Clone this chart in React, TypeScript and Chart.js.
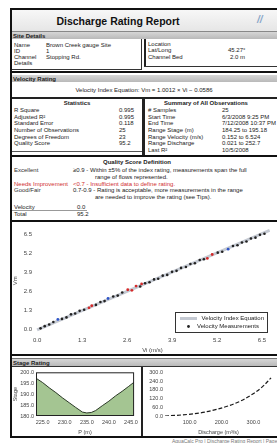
import React, { useEffect, useRef } from 'react';
import { Chart, registerables } from 'chart.js';
Chart.register(...registerables);

const FONT = '"Liberation Sans", Arial, sans-serif';

// ---- Velocity rating (main chart) ----
const VI_TICKS = [0.0, 1.3, 2.6, 3.9, 5.2, 6.5];
const VM_TICKS = [0.0, 1.3, 2.6, 3.9, 5.2, 6.5];
const FIT_VI = [0.0, 6.72];
const FIT_VM = [-0.06, 6.78];
const MEAS_VI = [0.10, 0.22, 0.35, 0.47, 0.72, 0.85, 0.98, 1.10, 1.23, 1.36, 1.70, 1.83, 1.95, 2.20, 2.33, 2.46, 2.98, 3.12, 3.25, 3.38, 3.50, 3.63, 3.76, 3.90, 4.03, 4.16, 4.30, 4.43, 4.56, 4.70, 4.82, 5.22, 5.35, 5.66, 5.79, 5.92, 6.05, 6.18, 6.31, 6.44, 6.57];
const MEAS_VM = [0.05, 0.20, 0.31, 0.49, 0.70, 0.80, 1.01, 1.07, 1.25, 1.33, 1.66, 1.86, 1.92, 2.24, 2.30, 2.51, 2.92, 3.15, 3.22, 3.41, 3.46, 3.67, 3.72, 3.93, 4.00, 4.20, 4.26, 4.47, 4.52, 4.74, 4.79, 5.25, 5.31, 5.70, 5.76, 5.95, 6.01, 6.22, 6.28, 6.47, 6.55];
const RED_VI = [1.50, 1.58, 2.62, 2.74, 2.86, 3.02, 4.92, 5.06];
const RED_VM = [1.46, 1.60, 2.70, 2.66, 2.95, 3.10, 4.85, 5.12];
const BLUE_VI = [0.60, 2.05, 5.52];
const BLUE_VM = [0.66, 2.10, 5.49];
const SERIES_NAMES = ['Velocity Index Equation', 'Velocity Measurements'];

// ---- Stage rating: cross-section ----
const XS_P = [223.5, 225.0, 226.5, 228.0, 229.5, 231.0, 232.5, 234.0, 235.0, 236.0, 237.0, 238.5, 240.0, 241.5, 243.0, 244.5, 245.7];
const XS_E = [197.3, 195.3, 192.9, 190.7, 188.3, 186.1, 183.9, 181.8, 181.4, 181.6, 182.5, 184.7, 186.8, 189.2, 191.3, 193.6, 195.5];
const XS_P_TICKS = [225, 230, 235, 240, 245];
const XS_E_TICKS = [180, 185, 190, 195, 200];

// ---- Stage rating: curve ----
const RC_X = [23, 55, 95, 135, 175, 215, 255, 290, 325, 355];
const RC_Y = [0, 4, 11, 22, 40, 65, 98, 140, 195, 262];
const RC_X_TICKS = [100, 200, 300];
const RC_Y_TICKS = [0, 60, 120, 180, 240, 300];

const pts = (xs: number[], ys: number[]) => xs.map((x, i) => ({ x, y: ys[i] }));
const fixTicks = (vals: number[]) => (axis: any) => { axis.ticks = vals.map((v) => ({ value: v })); };

const tickFont = { family: FONT, size: 6 };
const smallFont = { family: FONT, size: 5.5 };

function useChart(ref: React.RefObject<HTMLCanvasElement>, make: (c: HTMLCanvasElement) => Chart) {
  useEffect(() => {
    if (!ref.current) return;
    const ch = make(ref.current);
    return () => ch.destroy();
  }, []);
}

const insideLegend = {
  id: 'insideLegend',
  afterDraw(chart: any) {
    const { ctx, chartArea } = chart;
    const w = 92, h = 20;
    const x = chartArea.right - 3 - w;
    const y = chartArea.bottom - 1 - h;
    ctx.save();
    ctx.fillStyle = '#fff';
    ctx.fillRect(x, y, w, h);
    ctx.strokeStyle = '#333';
    ctx.lineWidth = 1;
    ctx.strokeRect(x + 0.5, y + 0.5, w, h);
    ctx.strokeStyle = '#c4c9d2';
    ctx.lineWidth = 3;
    ctx.beginPath();
    ctx.moveTo(x + 5, y + 6.5);
    ctx.lineTo(x + 22, y + 6.5);
    ctx.stroke();
    ctx.fillStyle = '#222';
    ctx.beginPath();
    ctx.arc(x + 13.5, y + 14.5, 1.4, 0, Math.PI * 2);
    ctx.fill();
    ctx.font = `6px ${FONT}`;
    ctx.textBaseline = 'middle';
    ctx.textAlign = 'right';
    ctx.fillText(chart.data.datasets[3].label, x + w - 3, y + 6.5);
    ctx.fillText(chart.data.datasets[0].label, x + w - 8, y + 14.5);
    ctx.restore();
  },
};

const framePlugin = {
  id: 'frame',
  afterDatasetsDraw(chart: any) {
    const { ctx, chartArea: a } = chart;
    ctx.save();
    ctx.strokeStyle = '#222';
    ctx.lineWidth = 1;
    ctx.strokeRect(a.left + 0.5, a.top + 0.5, a.right - a.left - 1, a.bottom - a.top - 1);
    ctx.restore();
  },
};

function axis(min: number, max: number, ticks: number[], fit: (s: any) => void, font: any, title?: string, pad = 3) {
  return {
    type: 'linear' as const, min, max,
    afterBuildTicks: fixTicks(ticks),
    afterFit: fit,
    grid: { display: false, drawTicks: false }, border: { display: false },
    ticks: { font, color: '#444', padding: pad, autoSkip: false, maxRotation: 0, callback: (v: any) => Number(v).toFixed(1) },
    title: { display: !!title, text: title || '', font, color: '#444', padding: 0 },
  };
}

function MainChart() {
  const ref = useRef<HTMLCanvasElement>(null);
  useChart(ref, (c) => new Chart(c, {
    type: 'scatter',
    data: {
      datasets: [
        { label: SERIES_NAMES[1], data: pts(MEAS_VI, MEAS_VM), backgroundColor: '#222', borderColor: '#222', pointRadius: 1.3, borderWidth: 0, order: 1 },
        { label: SERIES_NAMES[1], data: pts(RED_VI, RED_VM), backgroundColor: '#d42a2a', borderColor: '#d42a2a', pointRadius: 1.4, borderWidth: 0, order: 0 },
        { label: SERIES_NAMES[1], data: pts(BLUE_VI, BLUE_VM), backgroundColor: '#2f55c8', borderColor: '#2f55c8', pointRadius: 1.4, borderWidth: 0, order: 0 },
        { type: 'line', label: SERIES_NAMES[0], data: pts(FIT_VI, FIT_VM), borderColor: '#c4c9d2', borderWidth: 3, pointRadius: 0, fill: false, order: 5 } as any,
      ],
    },
    options: {
      animation: false, responsive: false, devicePixelRatio: 1,
      layout: { padding: { top: 4, right: 7, left: 0, bottom: 0 } },
      plugins: { legend: { display: false }, tooltip: { enabled: false } },
      scales: {
        x: axis(-0.06, 6.73, VI_TICKS, (s: any) => { s.height = 21; }, tickFont, 'Vi (m/s)', 4),
        y: axis(-0.27, 6.9, VM_TICKS, (s: any) => { s.width = 23; }, tickFont, 'Vm', 3),
      },
    },
    plugins: [insideLegend],
  }));
  return <canvas ref={ref} width={265} height={132} style={{ position: 'absolute', left: 12, top: 222 }} />;
}

function SectionChart() {
  const ref = useRef<HTMLCanvasElement>(null);
  useChart(ref, (c) => new Chart(c, {
    type: 'line',
    data: {
      datasets: [{ data: pts(XS_P, XS_E), borderColor: '#2c3a28', borderWidth: 1, backgroundColor: '#a4c592', fill: 'start', pointRadius: 0, tension: 0 }],
    },
    options: {
      animation: false, responsive: false, devicePixelRatio: 1,
      layout: { padding: { top: 4, right: 4, left: 0, bottom: 0 } },
      plugins: { legend: { display: false }, tooltip: { enabled: false } },
      scales: {
        x: axis(223.5, 245.7, XS_P_TICKS, (s: any) => { s.height = 20; }, smallFont, 'P (m)', 3),
        y: axis(180, 200, XS_E_TICKS, (s: any) => { s.width = 24; }, smallFont, 'Stage', 2),
      },
    },
    plugins: [framePlugin],
  }));
  return <canvas ref={ref} width={129} height={69} style={{ position: 'absolute', left: 12, top: 367 }} />;
}

function RatingCurve() {
  const ref = useRef<HTMLCanvasElement>(null);
  useChart(ref, (c) => new Chart(c, {
    type: 'line',
    data: {
      datasets: [{ data: pts(RC_X, RC_Y), borderColor: '#1a1a1a', borderWidth: 1.2, borderDash: [4, 2], pointRadius: 0, fill: false, tension: 0.35 }],
    },
    options: {
      animation: false, responsive: false, devicePixelRatio: 1,
      layout: { padding: { top: 3, right: 5, left: 0, bottom: 0 } },
      plugins: { legend: { display: false }, tooltip: { enabled: false } },
      scales: {
        x: axis(23, 358, RC_X_TICKS, (s: any) => { s.height = 20; }, smallFont, 'Discharge (m³/s)', 3),
        y: axis(0, 300, RC_Y_TICKS, (s: any) => { s.width = 22; }, smallFont, undefined, 2),
      },
    },
  }));
  return <canvas ref={ref} width={134} height={69} style={{ position: 'absolute', left: 143, top: 367 }} />;
}

type TP = { x: number; y: number; children?: React.ReactNode; size?: number; bold?: boolean; color?: string; center?: boolean; w?: number; };
function Tx({ x, y, children, size = 6, bold, color = '#222', center, w = 200 }: TP) {
  const lh = size + 2;
  return (
    <div style={{
      position: 'absolute', left: center ? x - w / 2 : x, top: y - lh / 2, width: center ? w : undefined,
      fontSize: size, lineHeight: `${lh}px`, fontWeight: bold ? 700 : 400, color, whiteSpace: 'nowrap',
      textAlign: center ? 'center' : 'left',
    }}>{children}</div>
  );
}

function Box({ x, y, w, h, bg }: { x: number; y: number; w: number; h: number; bg: string }) {
  return <div style={{ position: 'absolute', left: x, top: y, width: w, height: h, background: bg }} />;
}

function Bar({ y, text }: { y: number; text: string }) {
  return (
    <>
      <Box x={12} y={y} w={265} h={7} bg="linear-gradient(#d6d6d6, #b9b9b9)" />
      <Tx x={13} y={y + 3.5} bold size={6}>{text}</Tx>
    </>
  );
}

export default function App() {
  return (
    <div style={{ position: 'fixed', left: 0, top: 0, width: 277, height: 443, background: '#fff', overflow: 'hidden', fontFamily: FONT }}>
      {/* frame */}
      <Box x={10} y={8} w={267} h={2} bg="#111" />
      <Box x={10} y={8} w={2} h={430} bg="#111" />
      <Box x={12} y={10} w={265} h={21} bg="linear-gradient(#f7f7f7, #e6e6e6)" />
      <Box x={12} y={31} w={265} h={1} bg="#888" />
      <Tx x={118} y={21} center w={170} bold size={10.5} color="#111">Discharge Rating Report</Tx>
      <Tx x={257} y={20} size={10} bold color="#8aa6c8"><i>//</i></Tx>

      <Bar y={32} text="Site Details" />
      <Tx x={14} y={45}>Name</Tx><Tx x={46} y={45}>Brown Creek gauge Site</Tx>
      <Tx x={14} y={51}>ID</Tx><Tx x={46} y={51}>1</Tx>
      <Tx x={14} y={57}>Channel</Tx><Tx x={46} y={57}>Stopping Rd.</Tx>
      <Tx x={14} y={63}>Details</Tx>
      <Box x={141} y={39} w={1} h={31} bg="#333" />
      <Box x={12} y={69} w={130} h={1} bg="#333" />
      <Box x={144} y={39} w={2} h={28} bg="#222" />
      <Box x={144} y={66} w={133} h={1} bg="#333" />
      <Tx x={148} y={44}>Location</Tx>
      <Tx x={148} y={50}>Lat/Long</Tx><Tx x={228} y={50}>45.27°</Tx>
      <Tx x={148} y={57}>Channel Bed</Tx><Tx x={230} y={57}>2.0 m</Tx>
      <Box x={12} y={71} w={265} h={2} bg="#111" />

      <Bar y={75} text="Velocity Rating" />
      <Tx x={144} y={90} center w={200}>Velocity Index Equation: Vm = 1.0012 × Vi − 0.0586</Tx>
      <Box x={12} y={97} w={265} h={2} bg="#222" />

      <Tx x={77} y={103} center w={100} bold>Statistics</Tx>
      <Tx x={14} y={110}>R Square</Tx><Tx x={119} y={110}>0.995</Tx>
      <Tx x={14} y={117}>Adjusted R²</Tx><Tx x={119} y={117}>0.995</Tx>
      <Tx x={14} y={123}>Standard Error</Tx><Tx x={119} y={123}>0.118</Tx>
      <Tx x={14} y={130}>Number of Observations</Tx><Tx x={119} y={130}>25</Tx>
      <Tx x={14} y={137}>Degrees of Freedom</Tx><Tx x={119} y={137}>23</Tx>
      <Tx x={14} y={143}>Quality Score</Tx><Tx x={119} y={143}>95.2</Tx>
      <Box x={142} y={99} w={3} h={57} bg="#222" />
      <Box x={12} y={151} w={130} h={1} bg="#555" />

      <Tx x={206} y={103} center w={130} bold>Summary of All Observations</Tx>
      <Tx x={148} y={110}># Samples</Tx><Tx x={222} y={110}>25</Tx>
      <Tx x={148} y={117}>Start Time</Tx><Tx x={222} y={117}>6/3/2008 9:25 PM</Tx>
      <Tx x={148} y={123}>End Time</Tx><Tx x={222} y={123}>7/12/2008 10:37 PM</Tx>
      <Tx x={148} y={130}>Range Stage (m)</Tx><Tx x={222} y={130}>184.25 to 195.18</Tx>
      <Tx x={148} y={137}>Range Velocity (m/s)</Tx><Tx x={222} y={137}>0.152 to 6.524</Tx>
      <Tx x={148} y={143}>Range Discharge</Tx><Tx x={222} y={143}>0.021 to 252.7</Tx>
      <Tx x={148} y={150}>Last R²</Tx><Tx x={222} y={150}>10/5/2008</Tx>
      <Box x={12} y={155} w={265} h={2} bg="#111" />

      <Tx x={137} y={162} center w={120} bold>Quality Score Definition</Tx>
      <Tx x={14} y={170} color="#333">Excellent</Tx>
      <Tx x={73} y={170}>≥0.9 - Within ±5% of the index rating, measurements span the full</Tx>
      <Tx x={95} y={177}>range of flows represented.</Tx>
      <Tx x={14} y={184} color="#d03030">Needs Improvement</Tx>
      <Tx x={73} y={184} color="#d03030">&lt;0.7 - Insufficient data to define rating.</Tx>
      <Tx x={14} y={190} color="#333">Good/Fair</Tx>
      <Tx x={73} y={190}>0.7-0.9 - Rating is acceptable, more measurements in the range</Tx>
      <Tx x={95} y={197}>are needed to improve the rating (see Tips).</Tx>
      <Tx x={14} y={207}>Velocity</Tx><Tx x={77} y={207}>0.0</Tx>
      <Box x={12} y={210} w={75} h={1} bg="#999" />
      <Tx x={14} y={214}>Total</Tx><Tx x={77} y={214}>95.2</Tx>
      <Box x={12} y={220} w={265} h={2} bg="#111" />

      <MainChart />

      <Box x={12} y={354} w={265} h={2} bg="#111" />
      <Box x={12} y={358} w={265} h={1} bg="#777" />
      <Bar y={359} text="Stage Rating" />
      <Box x={12} y={366} w={265} h={1} bg="#333" />
      <SectionChart />
      <Box x={141} y={367} w={2} h={69} bg="#222" />
      <RatingCurve />
      <Box x={12} y={436} w={265} h={2} bg="#111" />
      <Tx x={172} y={441} size={5} color="#777">AquaCalc Pro | Discharge Rating Report | Page 1 of 1</Tx>
    </div>
  );
}
